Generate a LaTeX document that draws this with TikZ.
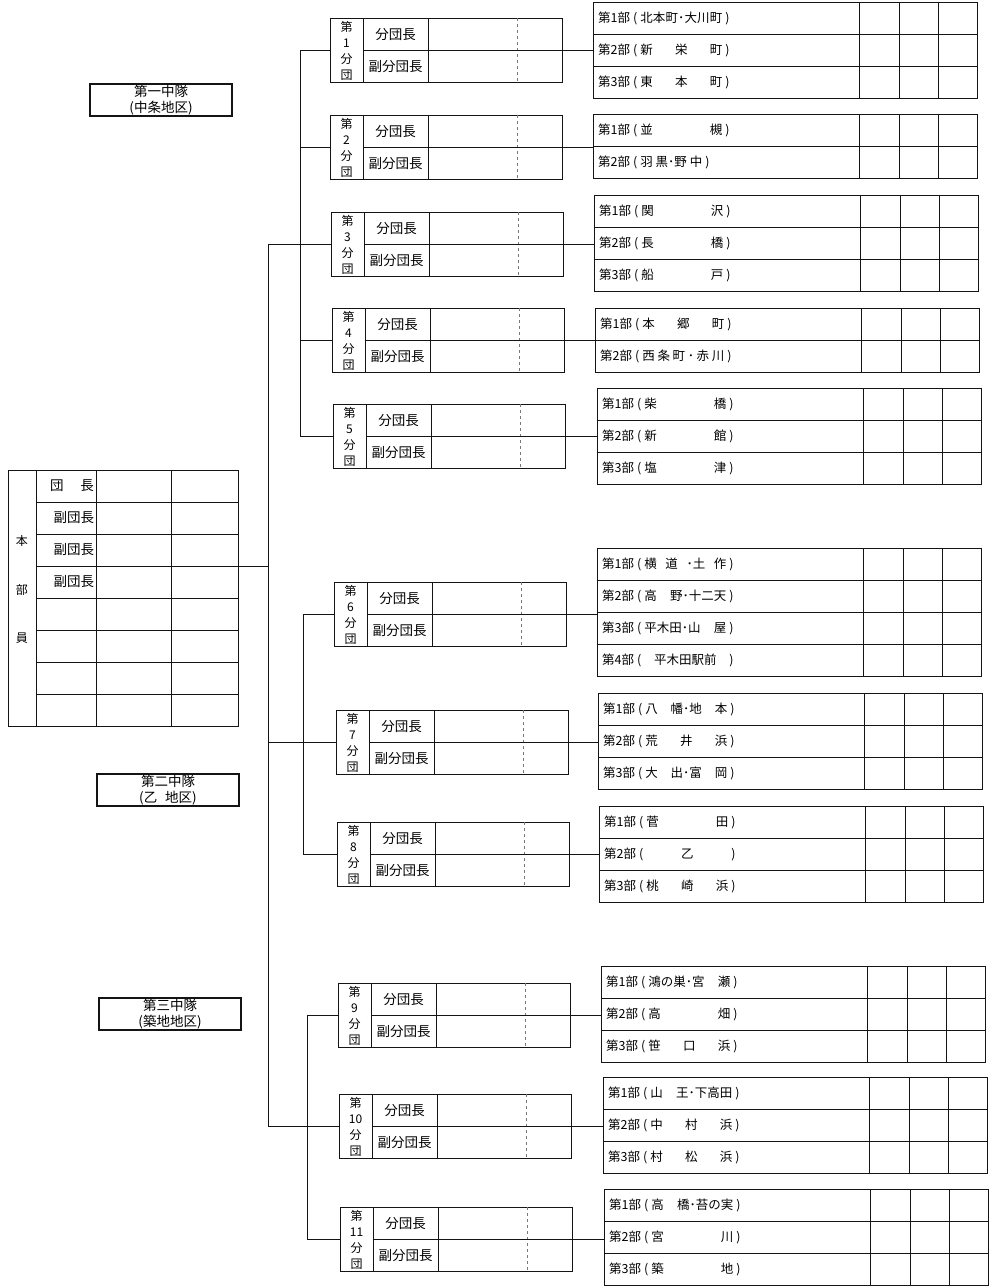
\documentclass[tikz,border=0pt]{standalone}
\usepackage{fontspec}
\setmainfont{Noto Sans CJK JP}
\usepackage{tikz}
\usetikzlibrary{positioning}
\usepackage{xcolor}
\definecolor{zline}{RGB}{20, 20, 20}
\definecolor{zgray}{RGB}{120, 120, 120}

% one 部 line: number, contents spread in the brackets
\newcommand{\bumei}[3][88pt]{第#2部\hspace{3pt}(\makebox[#1]{\hspace{3pt}#3\hspace{3pt}})}

% 分団 box: number, x, y (top left)
\newcommand{\bundan}[3]{%
  \node[divbox] (d#1) at (#2,#3) {};
  \draw[gridline] ([xshift=33pt]d#1.north west) -- ([xshift=33pt]d#1.south west);
  \draw[gridline] ([xshift=98pt]d#1.north west) -- ([xshift=98pt]d#1.south west);
  \draw[midline]  ([xshift=187pt]d#1.north west) -- ([xshift=187pt]d#1.south west);
  \draw[gridline] ([xshift=33pt]d#1.west) -- (d#1.east);
  \node[numlabel]  at ([xshift=16.5pt]d#1.west) {第\\#1\\分\\団};
  \node[rolelabel] at ([xshift=65.5pt,yshift=16pt]d#1.west) {分団長};
  \node[rolelabel] at ([xshift=65.5pt,yshift=-16pt]d#1.west) {副分団長};
}

% 部 table: number, x, y (top left), rows, lines
\newcommand{\butable}[5]{%
  \node[bubox, minimum height={#4*32pt}] (b#1) at (#2,#3) {};
  \foreach \c in {266,306,345}
    \draw[gridline] ([xshift=\c pt]b#1.north west) -- ([xshift=\c pt]b#1.south west);
  \foreach \txt [count=\i] in {#5} {
    \ifnum\i>1
      \draw[gridline] ([yshift={-(\i-1)*32pt}]b#1.north west) -- ([yshift={-(\i-1)*32pt}]b#1.north east);
    \fi
    \node[butext] at ([xshift=5pt,yshift={-(\i-0.5)*32pt}]b#1.north west) {\txt};
  }
}

\begin{document}
\begin{tikzpicture}[x=1pt, y=-1pt,
  divbox/.style={rectangle, draw=zline, line width=1.1pt, anchor=north west, inner sep=0pt,
                 minimum width=232pt, minimum height=64pt},
  bubox/.style={rectangle, draw=zline, line width=1.1pt, anchor=north west, inner sep=0pt,
                minimum width=384pt},
  hqbox/.style={rectangle, draw=zline, line width=1.1pt, anchor=north west, inner sep=0pt,
                minimum width=230pt, minimum height=256pt},
  chubox/.style={rectangle, draw=zline, line width=1.1pt, inner sep=0pt,
                 minimum width=142pt, minimum height=32pt, align=center,
                 font=\fontsize{13.5}{16}\selectfont},
  gridline/.style={zline, line width=0.9pt},
  midline/.style={zgray, line width=0.7pt, dashed},
  numlabel/.style={font=\fontsize{12}{16}\selectfont, align=center, inner sep=0pt},
  rolelabel/.style={font=\fontsize{13.5}{15}\selectfont, inner sep=0pt},
  butext/.style={anchor=west, font=\fontsize{12.5}{14}\selectfont, inner sep=0pt},
  conn/.style={zline, line width=1pt}
]
\useasboundingbox (0,0) rectangle (989,1286);

% 本部員 table
\node[hqbox] (hq) at (8,470) {};
\draw[gridline] (36,470) -- (36,726);
\draw[gridline] (96,470) -- (96,726);
\draw[gridline] (171,470) -- (171,726);
\foreach \y in {502,534,566,598,630,662,694}
  \draw[gridline] (36,\y) -- (238,\y);
\node[rolelabel] at (72,486) {\makebox[44pt]{団\hfill 長}};
\node[rolelabel] at (72,518) {\makebox[44pt][r]{副団長}};
\node[rolelabel] at (72,550) {\makebox[44pt][r]{副団長}};
\node[rolelabel] at (72,582) {\makebox[44pt][r]{副団長}};
\node[numlabel] at (22,541) {本};
\node[numlabel] at (22,590) {部};
\node[numlabel] at (22,638) {員};

% 中隊 labels
\node[chubox] (chu1) at (161,100) {第一中隊\\(中条地区)};
\node[chubox] (chu2) at (168,790) {第二中隊\\(乙\hspace{8pt}地区)};
\node[chubox] (chu3) at (170,1014) {第三中隊\\(築地地区)};

% 分団 boxes
\bundan{1}{330}{18}
\bundan{2}{330}{115}
\bundan{3}{331}{212}
\bundan{4}{332}{308}
\bundan{5}{333}{404}
\bundan{6}{334}{582}
\bundan{7}{336}{710}
\bundan{8}{337}{822}
\bundan{9}{338}{983}
\bundan{10}{339}{1094}
\bundan{11}{340}{1207}

% 部 tables
\butable{1}{593}{2}{3}{\bumei{1}{北\hfill 本\hfill 町\hfill ･\hfill 大\hfill 川\hfill 町},
  \bumei{2}{新\hfill 栄\hfill 町}, \bumei{3}{東\hfill 本\hfill 町}}
\butable{2}{593}{114}{2}{\bumei{1}{並\hfill 槻}, \bumei[68pt]{2}{羽\hfill 黒･野\hfill 中}}
\butable{3}{594}{195}{3}{\bumei{1}{関\hfill 沢}, \bumei{2}{長\hfill 橋}, \bumei{3}{船\hfill 戸}}
\butable{4}{595}{308}{2}{\bumei{1}{本\hfill 郷\hfill 町}, \bumei{2}{西\hfill 条\hfill 町\hfill ･\hfill 赤\hfill 川}}
\butable{5}{597}{388}{3}{\bumei{1}{柴\hfill 橋}, \bumei{2}{新\hfill 館}, \bumei{3}{塩\hfill 津}}
\butable{6}{597}{548}{4}{\bumei{1}{横\hfill 道\hfill ･土\hfill 作},
  \bumei{2}{高\hfill 野･十二天}, \bumei{3}{平木田･山\hfill 屋}, \bumei{4}{\hfill 平木田駅前\hfill}}
\butable{7}{598}{693}{3}{\bumei{1}{八\hfill 幡･地\hfill 本},
  \bumei{2}{荒\hfill 井\hfill 浜}, \bumei{3}{大\hfill 出･富\hfill 岡}}
\butable{8}{599}{806}{3}{\bumei{1}{菅\hfill 田}, \bumei{2}{\hfill 乙\hfill}, \bumei{3}{桃\hfill 崎\hfill 浜}}
\butable{9}{601}{966}{3}{\bumei{1}{鴻の巣･宮\hfill 瀬}, \bumei{2}{高\hfill 畑}, \bumei{3}{笹\hfill 口\hfill 浜}}
\butable{10}{603}{1077}{3}{\bumei{1}{山\hfill 王･下高田}, \bumei{2}{中\hfill 村\hfill 浜},
  \bumei{3}{村\hfill 松\hfill 浜}}
\butable{11}{604}{1189}{3}{\bumei{1}{高\hfill 橋･苔の実}, \bumei{2}{宮\hfill 川}, \bumei{3}{築\hfill 地}}

% Trunk lines
\coordinate (k0) at (268,0);
\coordinate (k1) at (300,0);
\coordinate (k2) at (303,0);
\coordinate (k3) at (307,0);
\coordinate (hqout) at ([yshift=-96pt]hq.north east);

\draw[conn] (hqout) -- (hqout -| k0);
\draw[conn] (d3.west -| k0) -- (d10.west -| k0);
\draw[conn] (d1.west -| k1) -- (d5.west -| k1);
\draw[conn] (d6.west -| k2) -- (d8.west -| k2);
\draw[conn] (d9.west -| k3) -- (d11.west -| k3);

% Branches into each 分団
\draw[conn] (d1.west -| k1) -- (d1.west);
\draw[conn] (d2.west -| k1) -- (d2.west);
\draw[conn] (d3.west -| k0) -- (d3.west);
\draw[conn] (d4.west -| k1) -- (d4.west);
\draw[conn] (d5.west -| k1) -- (d5.west);
\draw[conn] (d6.west -| k2) -- (d6.west);
\draw[conn] (d7.west -| k0) -- (d7.west);
\draw[conn] (d8.west -| k2) -- (d8.west);
\draw[conn] (d9.west -| k3) -- (d9.west);
\draw[conn] (d10.west -| k0) -- (d10.west);
\draw[conn] (d11.west -| k3) -- (d11.west);

% 分団 to its 部 table
\draw[conn] (d1.east) -- (d1.east -| b1.west);
\draw[conn] (d2.east) -- (d2.east -| b2.west);
\draw[conn] (d3.east) -- (d3.east -| b3.west);
\draw[conn] (d4.east) -- (d4.east -| b4.west);
\draw[conn] (d5.east) -- (d5.east -| b5.west);
\draw[conn] (d6.east) -- (d6.east -| b6.west);
\draw[conn] (d7.east) -- (d7.east -| b7.west);
\draw[conn] (d8.east) -- (d8.east -| b8.west);
\draw[conn] (d9.east) -- (d9.east -| b9.west);
\draw[conn] (d10.east) -- (d10.east -| b10.west);
\draw[conn] (d11.east) -- (d11.east -| b11.west);

\end{tikzpicture}
\end{document}
